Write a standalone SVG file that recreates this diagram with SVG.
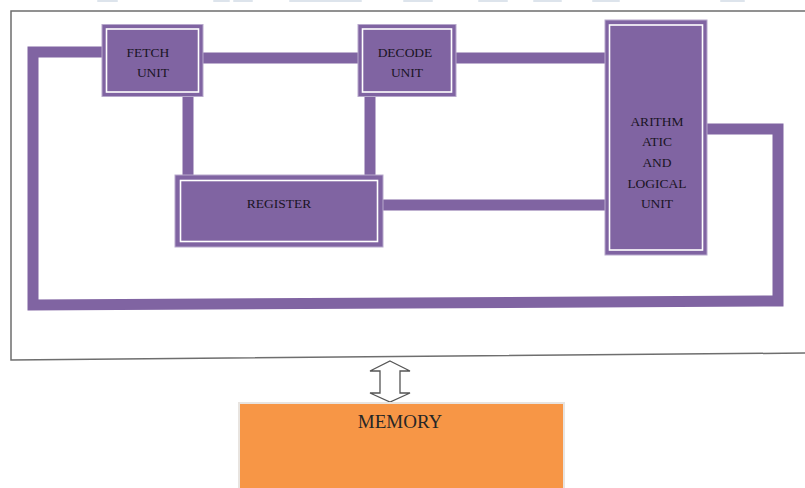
<svg xmlns="http://www.w3.org/2000/svg" width="805" height="488" viewBox="0 0 805 488">
<style>
.frag{fill:#dde4ec}
.frame{fill:none;stroke:#6e6e6e;stroke-width:1.5}
.conn{fill:none;stroke:#8064A2;stroke-width:11;stroke-linejoin:miter;stroke-linecap:butt}
.box{fill:#8064A2;stroke:#b7a8cc;stroke-width:1}
.inner{fill:none;stroke:#ffffff;stroke-width:1.6}
.lbl{font-family:"Liberation Serif","Times New Roman",serif;font-size:13.5px;fill:#1a1424;text-anchor:middle}
.mem{fill:#F79646;stroke:#e8e4e0;stroke-width:2}
.memt{font-family:"Liberation Serif","Times New Roman",serif;font-size:19px;fill:#262626;text-anchor:middle}
.arrow{fill:#ffffff;stroke:#555555;stroke-width:1.3;stroke-linejoin:miter}
</style>
<rect width="805" height="488" fill="#ffffff"/>
<g id="top-fragments">
<rect class="frag" x="97" y="0" width="21" height="2" rx="1"/>
<rect class="frag" x="213" y="0" width="17" height="2" rx="1"/>
<rect class="frag" x="233" y="0" width="20" height="2" rx="1"/>
<rect class="frag" x="289" y="0" width="73" height="2" rx="1"/>
<rect class="frag" x="403" y="0" width="30" height="2" rx="1"/>
<rect class="frag" x="478" y="0" width="30" height="2" rx="1"/>
<rect class="frag" x="533" y="0" width="29" height="2" rx="1"/>
<rect class="frag" x="592" y="0" width="28" height="2" rx="1"/>
<rect class="frag" x="720" y="0" width="25" height="2" rx="1"/>
</g>
<g id="frame">
<path class="frame" d="M805 11 H11 V360 L805 353"/>
</g>
<g id="connectors">
<path class="conn" d="M103 52 H33 V305 L778 301 V129 H706"/>
<path class="conn" d="M200 58 H359"/>
<path class="conn" d="M454 58 H607"/>
<path class="conn" d="M188 95 V180"/>
<path class="conn" d="M370 95 V180"/>
<path class="conn" d="M381 205 H607"/>
</g>
<g id="fetch">
<rect class="box" x="102" y="24.5" width="101" height="72"/>
<rect class="inner" x="106.5" y="29" width="92" height="63"/>
<text class="lbl" x="148" y="57">FETCH</text>
<text class="lbl" x="153" y="77">UNIT</text>
</g>
<g id="decode">
<rect class="box" x="358" y="24.5" width="98" height="72"/>
<rect class="inner" x="362.5" y="29" width="89" height="63"/>
<text class="lbl" x="405" y="57">DECODE</text>
<text class="lbl" x="407" y="77">UNIT</text>
</g>
<g id="register">
<rect class="box" x="175" y="175" width="208" height="72"/>
<rect class="inner" x="180.5" y="180.5" width="197" height="61"/>
<text class="lbl" x="279" y="208">REGISTER</text>
</g>
<g id="alu">
<rect class="box" x="605" y="20" width="102" height="235"/>
<rect class="inner" x="609.5" y="25" width="93" height="225"/>
<text class="lbl" x="657" y="126">ARITHM</text>
<text class="lbl" x="657" y="146">ATIC</text>
<text class="lbl" x="657" y="167">AND</text>
<text class="lbl" x="657" y="188">LOGICAL</text>
<text class="lbl" x="657" y="208">UNIT</text>
</g>
<g id="bus-arrow">
<path class="arrow" d="M390 361 L410 371 L400 371 L400 393 L410 393 L390 402 L370 393 L380 393 L380 371 L370 371 Z"/>
</g>
<g id="memory">
<rect class="mem" x="239" y="403" width="325" height="90"/>
<text class="memt" x="400" y="428">MEMORY</text>
</g>
</svg>
